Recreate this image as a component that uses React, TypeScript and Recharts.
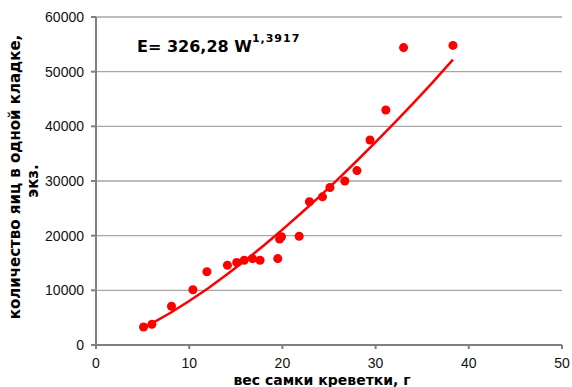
import React from 'react';
import { ScatterChart, Scatter, XAxis, YAxis, CartesianGrid } from 'recharts';

// вес самки (г) и количество яиц в кладке (экз.)
const weights = [5.1, 6.0, 8.1, 10.4, 11.9, 14.1, 15.1, 15.9, 16.8, 17.6, 19.5, 19.7, 19.9, 21.8, 22.9, 24.3, 25.1, 26.7, 28.0, 29.4, 31.1, 33.0, 38.3];
const eggs = [3300, 3800, 7100, 10100, 13400, 14600, 15100, 15500, 15800, 15500, 15800, 19400, 19800, 19900, 26200, 27100, 28800, 30000, 31900, 37500, 43000, 54400, 54800];

// линия тренда
const trendWeights = [5, 6, 8, 10, 12, 14, 16, 18, 20, 22, 24, 26, 28, 30, 32, 34, 36, 38.3];
const trendEggs = [3060, 3950, 5900, 8050, 10350, 12850, 15450, 18200, 21100, 24100, 27200, 30400, 33700, 37100, 40600, 44150, 47800, 52200];

const xTicks = [0, 10, 20, 30, 40, 50];
const yTicks = [0, 10000, 20000, 30000, 40000, 50000, 60000];

const points = weights.map((w, i) => ({ x: w, y: eggs[i] }));
const trend = trendWeights.map((w, i) => ({ x: w, y: trendEggs[i] }));

const RED = '#ff0000';
const AXIS = '#808080';
const TITLE_FONT = '"DejaVu Sans", Verdana, sans-serif';
const TICK_FONT = '"Liberation Sans", Arial, sans-serif';

export default function App() {
  const width = 572;
  const height = 387;

  return (
    <div style={{ position: 'absolute', left: 0, top: 0, width, height, background: '#fff' }}>
      <ScatterChart width={width} height={height} margin={{ top: 17, right: 10, bottom: 0, left: 0 }}>
        <CartesianGrid vertical={false} stroke="#a6a6a6" strokeWidth={1.3} />
        <XAxis
          type="number"
          dataKey="x"
          domain={[0, 50]}
          ticks={xTicks}
          height={42}
          stroke={AXIS}
          strokeWidth={2}
          tickSize={4}
          tickMargin={9}
          tick={{ fill: '#111', fontSize: 14, fontFamily: TICK_FONT }}
        />
        <YAxis
          type="number"
          dataKey="y"
          domain={[0, 60000]}
          ticks={yTicks}
          width={96}
          stroke={AXIS}
          strokeWidth={2}
          tickSize={5}
          tickMargin={7}
          tick={{ fill: '#111', fontSize: 14, fontFamily: TICK_FONT }}
        />
        <Scatter data={points} fill={RED} isAnimationActive={false} />
        <Scatter
          data={trend}
          line={{ stroke: RED, strokeWidth: 2.5 }}
          shape={() => <g />}
          isAnimationActive={false}
        />
      </ScatterChart>
      <svg
        width={width}
        height={height}
        style={{ position: 'absolute', left: 0, top: 0, pointerEvents: 'none' }}
      >
        <text x={137} y={52} fontFamily={TITLE_FONT} fontWeight="bold" fontSize={16} fill="#000">
          E= 326,28 W
          <tspan dy={-10} fontSize={11} letterSpacing={1}>1,3917</tspan>
        </text>
        <text x={322} y={385} textAnchor="middle" fontFamily={TITLE_FONT} fontWeight="bold" fontSize={14} fill="#000">
          вес самки креветки, г
        </text>
        <text transform="rotate(-90)" textAnchor="middle" fontFamily={TITLE_FONT} fontWeight="bold" fontSize={15} fill="#000">
          <tspan x={-177} y={20}>количество яиц в одной кладке,</tspan>
          <tspan x={-181} y={38}>экз.</tspan>
        </text>
      </svg>
    </div>
  );
}
